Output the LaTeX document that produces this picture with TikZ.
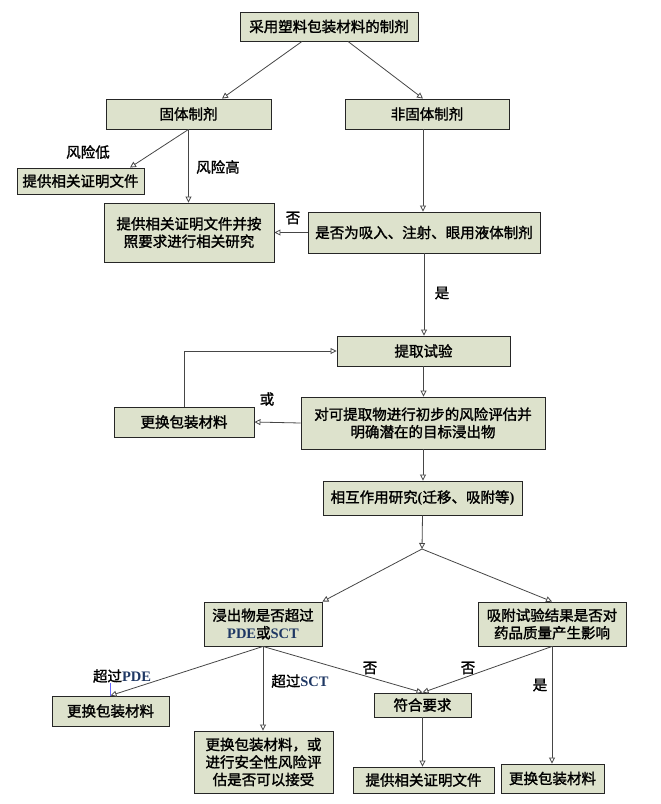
\documentclass[tikz,border=0pt]{standalone}
\usepackage{fontspec}
\setmainfont{Noto Sans CJK SC}[BoldFont={Noto Sans CJK SC}, BoldFeatures={FakeBold=1.6}]
\newfontfamily\lat{Liberation Serif}
\usetikzlibrary{arrows.meta}
\definecolor{boxfill}{RGB}{221,226,204}
\definecolor{navy}{RGB}{31,56,100}
\definecolor{linegray}{RGB}{70,70,70}
\tikzset{
  box/.style={draw=black!85, line width=0.9pt, fill=boxfill, inner sep=0pt, align=center,
    font=\bfseries\fontsize{14.5}{17.5}\selectfont},
  lbl/.style={inner sep=0pt, font=\bfseries\fontsize{14.5}{17.5}\selectfont},
  arr/.style={draw=linegray, line width=0.8pt,
    -{Triangle[open, length=6pt, width=6pt, fill=white]}},
}
\newcommand{\bx}[6]{\node[box, minimum width=#4pt, minimum height=#5pt] (#1) at (#2,#3) {#6};}
\begin{document}
\begin{tikzpicture}[x=1pt, y=-1pt]
\useasboundingbox (0,0) rectangle (661,804);
% boxes
\bx{top}{329}{26.5}{178}{29}{采用塑料包装材料的制剂}
\bx{gu}{188.5}{114}{165}{30}{固体制剂}
\bx{fei}{427}{114}{164}{30}{非固体制剂}
\bx{provA}{80.5}{181}{127}{26}{提供相关证明文件}
\bx{bigA}{189}{232.5}{170}{59}{提供相关证明文件并按\\照要求进行相关研究}
\bx{qA}{424}{232.5}{232}{41}{是否为吸入、注射、眼用液体制剂}
\bx{ext}{423.5}{351}{173}{30}{提取试验}
\bx{chgA}{184}{422}{140}{30}{更换包装材料}
\bx{risk}{423}{423}{244}{52}{对可提取物进行初步的风险评估并\\明确潜在的目标浸出物}
\bx{inter}{422.5}{498}{199}{34}{相互作用研究{\lat(}迁移、吸附等{\lat)}}
\bx{leach}{263}{624}{118}{44}{浸出物是否超过\\{\lat\color{navy}PDE}或{\lat\color{navy}SCT}}
\bx{ads}{552}{624}{148}{44}{吸附试验结果是否对\\药品质量产生影响}
\bx{chgB}{110.5}{711}{117}{30}{更换包装材料}
\bx{chgC}{263.5}{762}{139}{62}{更换包装材料，或\\进行安全性风险评\\估是否可以接受}
\bx{ok}{422.5}{705}{97}{24}{符合要求}
\bx{provB}{423.5}{780}{141}{26}{提供相关证明文件}
\bx{chgD}{552.5}{778.5}{103}{29}{更换包装材料}
% labels
\node[lbl] (lLow) at (88,152) {风险低};
\node[lbl] (lHigh) at (218,167) {风险高};
\node[lbl] (lNoA) at (293,218) {否};
\node[lbl] (lYesA) at (442,293) {是};
\node[lbl] (lOr) at (267,399) {或};
\node[lbl] (lPDE) at (122,676) {超过{\lat\color{navy}PDE}};
\node[lbl] (lSCT) at (300,681) {超过{\lat\color{navy}SCT}};
\node[lbl] (lNoB) at (370,668) {否};
\node[lbl] (lNoC) at (468,668) {否};
\node[lbl] (lYesB) at (540,685) {是};
\coordinate (br) at (422,549);
% connectors
\draw[arr] ([xshift=-27pt]top.south) -- ([xshift=33.5pt]gu.north);
\draw[arr] ([xshift=19pt]top.south) -- ([xshift=-4pt]fei.north);
\draw[arr] (gu.south) -- ([xshift=49.5pt]provA.north);
\draw[arr] (gu.south) -- (gu.south |- bigA.north);
\draw[arr] ([xshift=-4pt]fei.south) -- ([xshift=-4pt]fei.south |- qA.north);
\draw[arr] (qA.west) -- (bigA.east);
\draw[arr] (qA.south) -- (qA.south |- ext.north);
\draw[arr] (ext.south) -- (ext.south |- risk.north);
\draw[arr] (risk.west) -- (chgA.east);
\draw[arr] (chgA.north) |- (ext.west);
\draw[arr] (risk.south) -- (risk.south |- inter.north);
\draw[arr] (inter.south) -- (br);
\draw[arr] (br) -- (leach.north east);
\draw[arr] (br) -- (ads.north);
\draw[arr] (leach.south) -- (chgB.north);
\draw[arr] (leach.south) -- (leach.south |- chgC.north);
\draw[arr] (leach.south) -- (ok.north);
\draw[arr] (ads.south) -- (ok.north);
\draw[arr] (ads.south) -- (ads.south |- chgD.north);
\draw[arr] (ok.south) -- (ok.south |- provB.north);
\draw[blue!60, line width=0.4pt] (chgB.north) -- (chgB.north |- lPDE.south);
\end{tikzpicture}
\end{document}
